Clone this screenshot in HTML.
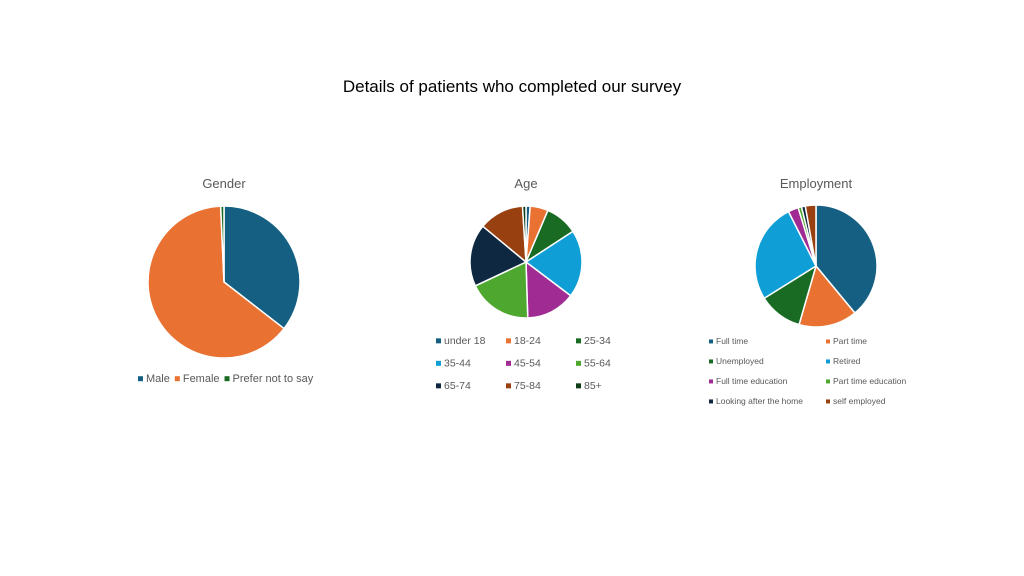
<!DOCTYPE html>
<html><head><meta charset="utf-8">
<style>
body{margin:0;background:#fff;width:1024px;height:576px;overflow:hidden;font-family:"Liberation Sans",sans-serif}
svg{display:block}
</style></head>
<body>
<svg id="c" width="1024" height="576">
<text x="512" y="92" text-anchor="middle" font-size="17" fill="#000">Details of patients who completed our survey</text>
</svg>
<script>
const genderCats=["Male","Female","Prefer not to say"];
const genderVals=[35.5,63.8,0.7];
const ageCats=["under 18","18-24","25-34","35-44","45-54","55-64","65-74","75-84","85+"];
const ageVals=[1.2,5.2,9.4,19.5,14.2,18.5,18,13,1];
const empCats=["Full time","Part time","Unemployed","Retired","Full time education","Part time education","Looking after the home","self employed"];
const empVals=[38.8,15.4,11.6,26.3,2.7,0.9,1.0,2.8];

const colors=["#156082","#E97132","#196B24","#0F9ED5","#A02B93","#4EA72E","#0E2841","#984010","#0D3D16"];
const svg=document.getElementById('c');
const NS="http://www.w3.org/2000/svg";
function mk(tag,attrs){const e=document.createElementNS(NS,tag);for(const k in attrs)e.setAttribute(k,attrs[k]);svg.appendChild(e);return e;}
function pie(name,cx,cy,r,vals,cats){
  const tot=vals.reduce((a,b)=>a+b,0);let a0=0;
  vals.forEach((v,i)=>{
    const a1=a0+v/tot*2*Math.PI;
    const x0=cx+r*Math.sin(a0),y0=cy-r*Math.cos(a0),x1=cx+r*Math.sin(a1),y1=cy-r*Math.cos(a1);
    const large=(a1-a0)>Math.PI?1:0;
    const p=mk('path',{d:`M${cx},${cy}L${x0},${y0}A${r},${r} 0 ${large} 1 ${x1},${y1}Z`,fill:colors[i],stroke:'#fff','stroke-width':1.5});
    
    
    a0=a1;
  });
}
function title(name,x,y,t){const e=mk('text',{x:x,y:y,'text-anchor':'middle','font-size':13,fill:'#595959'});e.textContent=t;
  
  }
function legendItem(name,x,y,i,t,fs,ms){
  const r=mk('rect',{x:x,y:y-ms/2-fs*0.3,width:ms,height:ms,fill:colors[i]});
  
  
  const e=mk('text',{x:x+ms+3,y:y,'font-size':fs,fill:'#595959'});e.textContent=t;
  
  
  return e;
}
title('gender-title',224,188,'Gender');
title('age-title',526,188,'Age');
title('employment-title',816,188,'Employment');
pie('gender',224,282,76,genderVals,genderCats);
pie('age',526,262,56,ageVals,ageCats);
pie('employment',816,266,61,empVals,empCats);
// gender legend
let gx=138;
genderCats.forEach((c,i)=>{const e=legendItem('gender',gx,382,i,c,11,5);gx+=5+3+e.getComputedTextLength()+5;});
// age legend
ageCats.forEach((c,i)=>{legendItem('age',436+(i%3)*70,344+Math.floor(i/3)*22.5,i,c,10.5,5);});
// employment legend
empCats.forEach((c,i)=>{legendItem('employment',709+(i%2)*117,344+Math.floor(i/2)*20,i,c,8.5,4);});
</script>
</body></html>
